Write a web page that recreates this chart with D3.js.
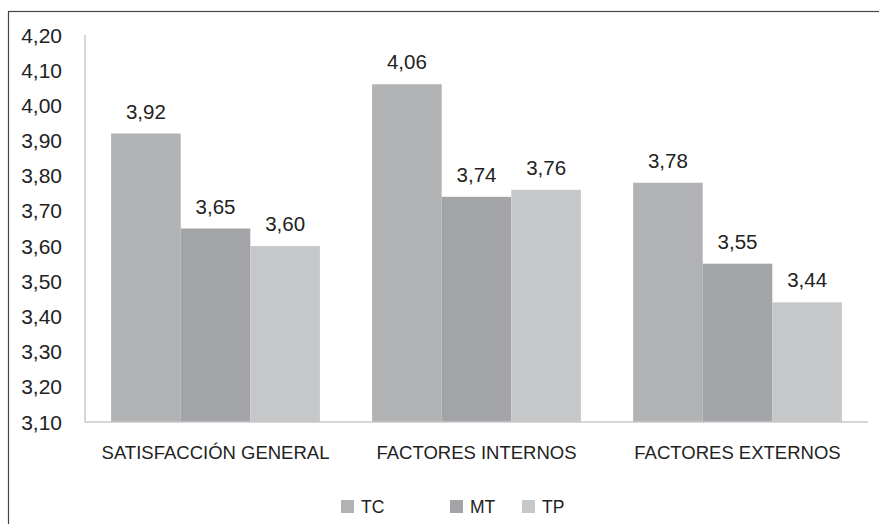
<!DOCTYPE html>
<html>
<head>
<meta charset="utf-8">
<script src="https://cdn.jsdelivr.net/npm/d3@7"></script>
<style>
  body { margin: 0; background: #fff; }
  svg { font-family: "Liberation Sans", Arial, sans-serif; }
</style>
</head>
<body>
<svg id="chart"></svg>
<script>
const outerWidth = 879;
const outerHeight = 524;

const categories = ["SATISFACCIÓN GENERAL", "FACTORES INTERNOS", "FACTORES EXTERNOS"];
const seriesNames = ["TC", "MT", "TP"];
const tcValues = [3.92, 4.06, 3.78];
const mtValues = [3.65, 3.74, 3.55];
const tpValues = [3.60, 3.76, 3.44];
const yTicks = [3.1, 3.2, 3.3, 3.4, 3.5, 3.6, 3.7, 3.8, 3.9, 4.0, 4.1, 4.2];
const colors = ["#b1b2b4", "#a3a4a7", "#c6c7c9"];

const seriesValues = [tcValues, mtValues, tpValues];
const rows = categories.map((c, i) => ({
  cat: c,
  vals: seriesNames.map((s, j) => ({key: s, value: seriesValues[j][i], idx: j}))
}));

const plot = {left: 85, top: 35, right: 868, bottom: 422};
const fmt = v => d3.format(".2f")(v).replace(".", ",");

var svg = d3.select("#chart")
  .attr("width", outerWidth)
  .attr("height", outerHeight);

// outer frame (runs off the right/bottom edges)
svg.append("rect")
  .attr("x", 8.5).attr("y", 11.5)
  .attr("width", 900).attr("height", 600)
  .attr("fill", "none").attr("stroke", "#444").attr("stroke-width", 1.2);

var x0 = d3.scaleBand().domain(categories).range([plot.left, plot.right]).paddingInner(0.2).paddingOuter(0.1);
var x1 = d3.scaleBand().domain(seriesNames).range([0, x0.bandwidth()]);
var y = d3.scaleLinear().domain([3.1, 4.2]).range([plot.bottom, plot.top]);

// y axis labels
svg.append("g").selectAll("text")
  .data(yTicks)
  .enter()
  .append("text")
  .attr("x", 62)
  .attr("y", d => y(d))
  .attr("dy", "0.36em")
  .attr("text-anchor", "end")
  .style("font-size", "21px")
  .style("fill", "#222")
  .text(d => fmt(d));

// bars
var groups = svg.append("g").selectAll("g")
  .data(rows)
  .enter()
  .append("g")
  .attr("transform", d => "translate(" + x0(d.cat) + ",0)");

groups.selectAll("rect")
  .data(d => d.vals)
  .enter()
  .append("rect")
  .attr("x", d => x1(d.key))
  .attr("y", d => y(d.value))
  .attr("width", x1.bandwidth())
  .attr("height", d => y(3.1) - y(d.value))
  .style("fill", d => colors[d.idx]);

groups.selectAll("text")
  .data(d => d.vals)
  .enter()
  .append("text")
  .attr("x", d => x1(d.key) + x1.bandwidth() / 2)
  .attr("y", d => y(d.value) - 15)
  .attr("text-anchor", "middle")
  .style("font-size", "20.5px")
  .style("fill", "#222")
  .text(d => fmt(d.value));

// axis lines
svg.append("line")
  .attr("x1", plot.left).attr("x2", plot.left)
  .attr("y1", plot.top).attr("y2", plot.bottom)
  .style("stroke", "#c8c8c8").style("stroke-width", 1.5);
svg.append("line")
  .attr("x1", plot.left).attr("x2", plot.right)
  .attr("y1", plot.bottom).attr("y2", plot.bottom)
  .style("stroke", "#c8c8c8").style("stroke-width", 1.5);

// category labels
svg.append("g").selectAll("text")
  .data(categories)
  .enter()
  .append("text")
  .attr("x", d => x0(d) + x0.bandwidth() / 2)
  .attr("y", 459)
  .attr("text-anchor", "middle")
  .style("font-size", "18.5px")
  .style("fill", "#222")
  .text(d => d);

// legend
const legendX = [341, 450, 522];
var legend = svg.append("g").selectAll("g")
  .data(seriesNames)
  .enter()
  .append("g")
  .attr("transform", (d, i) => "translate(" + legendX[i] + ",500)");
legend.append("rect")
  .attr("width", 13).attr("height", 13)
  .style("fill", (d, i) => colors[i]);
legend.append("text")
  .attr("x", 20).attr("y", 13)
  .style("font-size", "17.5px")
  .style("fill", "#222")
  .text(d => d);
</script>
</body>
</html>
